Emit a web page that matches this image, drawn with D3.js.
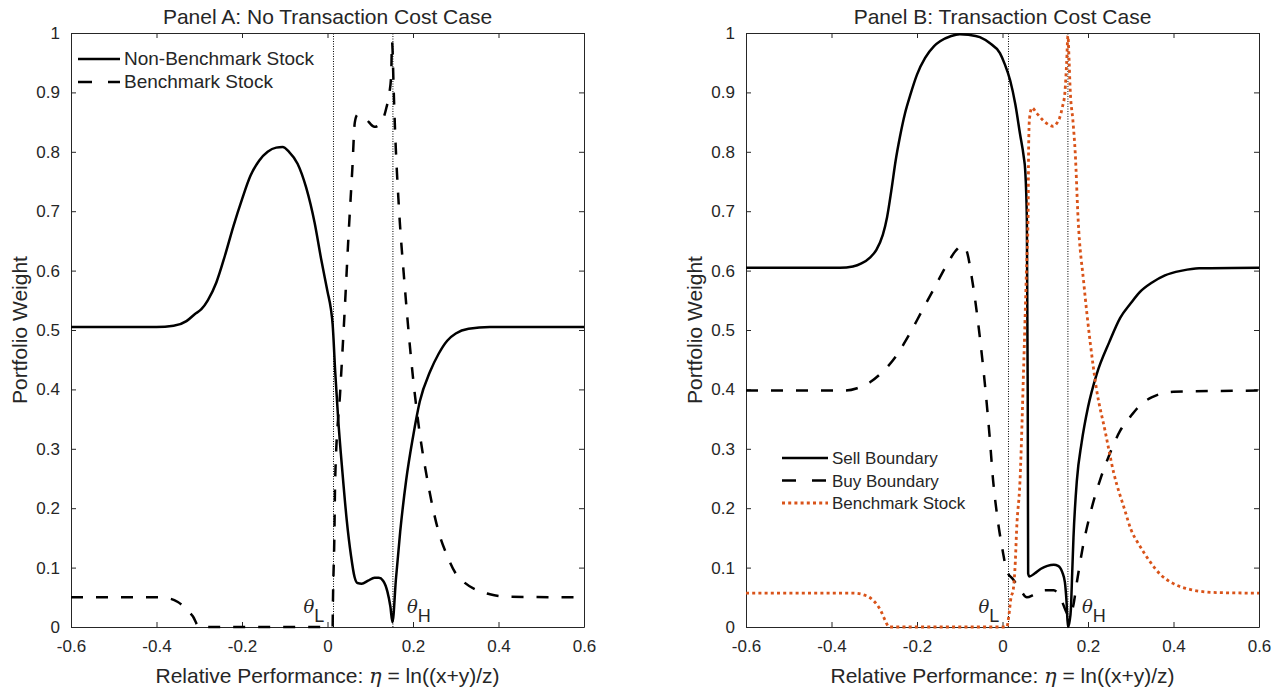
<!DOCTYPE html>
<html>
<head>
<meta charset="utf-8">
<script src="https://cdn.jsdelivr.net/npm/d3@7"></script>
<style>
  body { margin: 0; background: #fff; }
  svg text { font-family: "Liberation Sans", Arial, Helvetica, sans-serif; fill: #262626; }
</style>
</head>
<body>
<div id="chart"></div>
<script>
// ---- data ----
var xTicks = [-0.6, -0.4, -0.2, 0, 0.2, 0.4, 0.6];
var yTicks = [0, 0.1, 0.2, 0.3, 0.4, 0.5, 0.6, 0.7, 0.8, 0.9, 1];
var thetaL = 0.014, thetaH = 0.153;

// Panel A: no transaction cost
var nonBenchA = [[-0.6,0.505],[-0.4,0.505],[-0.36,0.507],[-0.33,0.515],[-0.31,0.527],[-0.295,0.535],[-0.28,0.55],
  [-0.26,0.58],[-0.24,0.625],[-0.22,0.675],[-0.2,0.72],[-0.18,0.76],[-0.16,0.785],[-0.14,0.8],[-0.12,0.807],
  [-0.105,0.808],[-0.09,0.8],[-0.07,0.78],[-0.05,0.74],[-0.03,0.68],[-0.015,0.62],[0,0.565],[0.008,0.535],
  [0.012,0.51],[0.018,0.43],[0.025,0.35],[0.035,0.26],[0.045,0.18],[0.055,0.12],[0.063,0.085],[0.07,0.074],
  [0.08,0.073],[0.095,0.078],[0.11,0.083],[0.12,0.083],[0.13,0.078],[0.14,0.06],[0.147,0.035],[0.152,0.008],
  [0.16,0.08],[0.17,0.16],[0.184,0.247],[0.2,0.32],[0.216,0.38],[0.24,0.43],[0.26,0.46],[0.28,0.482],
  [0.3,0.494],[0.33,0.502],[0.38,0.505],[0.6,0.505]];
var benchA = [[-0.6,0.05],[-0.4,0.05],[-0.37,0.048],[-0.35,0.042],[-0.33,0.03],[-0.315,0.018],[-0.3,0],
  [0.012,0],[0.0125,0.03],[0.016,0.15],[0.018,0.25],[0.03,0.4],[0.04,0.53],[0.05,0.67],[0.058,0.77],
  [0.064,0.85],[0.07,0.862],[0.09,0.855],[0.11,0.842],[0.12,0.845],[0.13,0.855],[0.138,0.875],[0.145,0.9],
  [0.149,0.93],[0.151,0.985],[0.155,0.9],[0.158,0.837],[0.167,0.707],[0.18,0.58],[0.2,0.42],[0.215,0.33],
  [0.233,0.25],[0.26,0.16],[0.28,0.12],[0.3,0.09],[0.32,0.075],[0.35,0.062],[0.38,0.055],[0.42,0.051],[0.6,0.05]];

// Panel B: transaction cost
var sellB = [[-0.6,0.605],[-0.38,0.605],[-0.35,0.607],[-0.33,0.612],[-0.31,0.622],[-0.295,0.635],[-0.28,0.66],
  [-0.27,0.69],[-0.26,0.735],[-0.25,0.785],[-0.24,0.825],[-0.228,0.865],[-0.216,0.895],[-0.2,0.93],
  [-0.181,0.958],[-0.16,0.978],[-0.146,0.986],[-0.12,0.995],[-0.1,0.998],[-0.08,0.997],[-0.053,0.993],
  [-0.03,0.983],[-0.006,0.966],[0.005,0.948],[0.018,0.92],[0.03,0.88],[0.041,0.83],[0.05,0.79],[0.053,0.77],
  [0.057,0.685],[0.059,0.4],[0.06,0.09],[0.063,0.085],[0.075,0.09],[0.09,0.098],[0.105,0.103],[0.12,0.105],
  [0.13,0.103],[0.14,0.092],[0.146,0.075],[0.15,0.04],[0.153,0.0],[0.157,0.01],[0.16,0.03],[0.163,0.09],
  [0.166,0.15],[0.174,0.247],[0.185,0.31],[0.2,0.37],[0.22,0.425],[0.25,0.48],[0.275,0.52],[0.3,0.545],
  [0.32,0.563],[0.35,0.58],[0.38,0.592],[0.42,0.6],[0.46,0.604],[0.6,0.605]];
var buyB = [[-0.6,0.398],[-0.37,0.398],[-0.34,0.402],[-0.31,0.412],[-0.28,0.43],[-0.25,0.455],[-0.22,0.49],
  [-0.19,0.53],[-0.16,0.57],[-0.13,0.61],[-0.11,0.633],[-0.095,0.642],[-0.085,0.635],[-0.07,0.58],
  [-0.055,0.5],[-0.04,0.4],[-0.03,0.32],[-0.022,0.247],[-0.013,0.19],[0,0.13],[0.01,0.095],[0.025,0.08],
  [0.04,0.065],[0.057,0.05],[0.075,0.055],[0.1,0.062],[0.12,0.062],[0.135,0.05],[0.15,0.024],[0.155,0.018],
  [0.165,0.034],[0.175,0.08],[0.188,0.135],[0.205,0.19],[0.228,0.247],[0.25,0.29],[0.275,0.33],[0.3,0.355],
  [0.32,0.372],[0.35,0.387],[0.4,0.396],[0.6,0.398]];
var benchB = [[-0.6,0.057],[-0.35,0.057],[-0.32,0.053],[-0.3,0.043],[-0.285,0.028],[-0.275,0.012],[-0.265,0],
  [0.01,0],[0.015,0.02],[0.02,0.05],[0.025,0.062],[0.03,0.11],[0.033,0.163],[0.041,0.247],[0.05,0.45],
  [0.056,0.6],[0.06,0.697],[0.061,0.8],[0.063,0.855],[0.069,0.874],[0.08,0.865],[0.095,0.853],[0.11,0.845],
  [0.118,0.843],[0.127,0.848],[0.134,0.858],[0.14,0.875],[0.146,0.9],[0.15,0.95],[0.153,0.995],[0.156,0.95],
  [0.158,0.91],[0.165,0.85],[0.17,0.8],[0.177,0.685],[0.19,0.58],[0.205,0.48],[0.22,0.4],[0.24,0.33],
  [0.26,0.26],[0.286,0.197],[0.3,0.165],[0.32,0.138],[0.345,0.11],[0.37,0.088],[0.4,0.073],[0.44,0.063],
  [0.5,0.058],[0.6,0.057]];

var width = 1277, height = 688;
var styles = {
  solid:  { stroke: '#000', width: 2.5, dash: null },
  dashed: { stroke: '#000', width: 2.5, dash: '12,13' },
  dotted: { stroke: '#D95319', width: 2.8, dash: '3,3.2' }
};

var svg = d3.select('#chart').append('svg')
  .attr('width', width)
  .attr('height', height);

function panel(opts) {
  var x = d3.scaleLinear().domain([-0.6, 0.6]).range([opts.left, opts.right]),
      y = d3.scaleLinear().domain([0, 1]).range([627, 33]);
  var g = svg.append('g');

  // theta reference lines
  [thetaL, thetaH].forEach(function(t) {
    g.append('line')
      .attr('x1', x(t)).attr('x2', x(t)).attr('y1', y(0)).attr('y2', y(1))
      .attr('stroke', '#000').attr('stroke-width', 1).attr('stroke-dasharray', '1,1.5');
  });

  // axes (box with inward ticks)
  g.append('g').attr('transform', 'translate(0,' + y(0) + ')')
    .call(d3.axisBottom(x).tickValues(xTicks).tickSizeInner(-5).tickSizeOuter(0).tickPadding(13)
      .tickFormat(function(d) { return d === 0 ? '0' : d3.format('.1f')(d).replace('−', '-'); }));
  g.append('g').attr('transform', 'translate(0,' + y(1) + ')')
    .call(d3.axisTop(x).tickValues(xTicks).tickSizeInner(-5).tickSizeOuter(0).tickFormat(''));
  g.append('g').attr('transform', 'translate(' + x(-0.6) + ',0)')
    .call(d3.axisLeft(y).tickValues(yTicks).tickSizeInner(-5).tickSizeOuter(0).tickPadding(11)
      .tickFormat(function(d) { return d === 0 || d === 1 ? String(d) : d3.format('.1f')(d); }));
  g.append('g').attr('transform', 'translate(' + x(0.6) + ',0)')
    .call(d3.axisRight(y).tickValues(yTicks).tickSizeInner(-5).tickSizeOuter(0).tickFormat(''));
  g.selectAll('.domain').attr('stroke', '#262626');
  g.selectAll('.tick line').attr('stroke', '#262626');
  g.selectAll('.tick text').style('font-size', '17px').attr('fill', '#262626');

  // series
  var line = d3.line().curve(d3.curveMonotoneX)
    .x(function(d) { return x(d[0]); }).y(function(d) { return y(d[1]); });
  opts.series.forEach(function(s) {
    var st = styles[s.style];
    g.append('path').datum(s.data)
      .attr('d', line)
      .attr('fill', 'none')
      .attr('stroke', st.stroke)
      .attr('stroke-width', st.width)
      .attr('stroke-dasharray', st.dash)
      .attr('stroke-linejoin', 'round');
  });

  // theta labels
  [['L', thetaL, -30], ['H', thetaH, 14]].forEach(function(t) {
    var lbl = g.append('text').attr('x', x(t[1]) + t[2]).attr('y', 613).style('font-size', '18px');
    lbl.append('tspan').text('θ').style('font-style', 'italic').style('font-family', '"DejaVu Serif", serif');
    lbl.append('tspan').text(t[0]).attr('dy', 9);
  });

  // title
  g.append('text').attr('x', (opts.left + opts.right) / 2).attr('y', 24)
    .attr('text-anchor', 'middle').style('font-size', '21px').text(opts.title);

  // x label
  var xl = g.append('text').attr('x', (opts.left + opts.right) / 2).attr('y', 683)
    .attr('text-anchor', 'middle').style('font-size', '21px');
  xl.append('tspan').text('Relative Performance: ');
  xl.append('tspan').text('η').style('font-style', 'italic').style('font-family', '"DejaVu Serif", serif');
  xl.append('tspan').text(' = ln((x+y)/z)');

  // y label
  g.append('text')
    .attr('transform', 'translate(' + (opts.left - 44) + ',330) rotate(-90)')
    .attr('text-anchor', 'middle').style('font-size', '21px').text('Portfolio Weight');

  // legend
  opts.legend.items.forEach(function(it, i) {
    var ly = opts.legend.y + i * opts.legend.step, st = styles[it.style];
    g.append('line')
      .attr('x1', opts.legend.x).attr('x2', opts.legend.x + opts.legend.len).attr('y1', ly).attr('y2', ly)
      .attr('stroke', st.stroke).attr('stroke-width', st.width)
      .attr('stroke-dasharray', it.style === 'dashed' ? '14,16' : st.dash);
    g.append('text').attr('x', opts.legend.x + opts.legend.len + 4).attr('y', ly + 6)
      .style('font-size', opts.legend.size + 'px').text(it.label);
  });
}

panel({
  left: 71, right: 584,
  title: 'Panel A: No Transaction Cost Case',
  series: [{ data: nonBenchA, style: 'solid' }, { data: benchA, style: 'dashed' }],
  legend: { x: 78, y: 59, step: 23, len: 42, size: 19, items: [
    { label: 'Non-Benchmark Stock', style: 'solid' },
    { label: 'Benchmark Stock', style: 'dashed' }] }
});

panel({
  left: 746, right: 1259,
  title: 'Panel B: Transaction Cost Case',
  series: [{ data: sellB, style: 'solid' }, { data: buyB, style: 'dashed' }, { data: benchB, style: 'dotted' }],
  legend: { x: 782, y: 458, step: 22.5, len: 46, size: 17, items: [
    { label: 'Sell Boundary', style: 'solid' },
    { label: 'Buy Boundary', style: 'dashed' },
    { label: 'Benchmark Stock', style: 'dotted' }] }
});
</script>
</body>
</html>
